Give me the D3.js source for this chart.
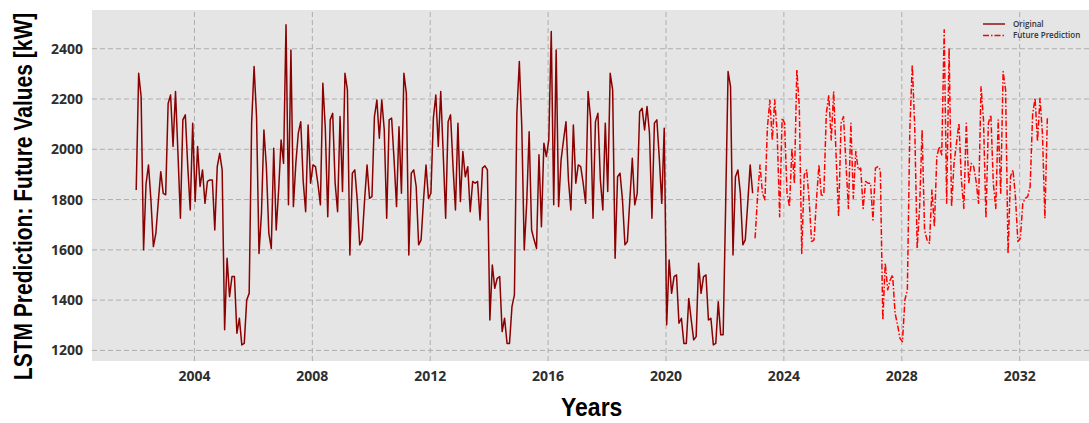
<!DOCTYPE html>
<html>
<head>
<meta charset="utf-8">
<script src="https://cdn.jsdelivr.net/npm/d3@7/dist/d3.min.js"></script>
<style>
  html, body { margin: 0; padding: 0; background: #ffffff; }
  svg { display: block; }
</style>
</head>
<body>
<svg id="chart" width="1089" height="423"></svg>
<script>
// ---- Data (monthly values) ----
const originalStart = [2002, 0];   // Jan 2002
const originalValues = [
  1836,2300,2208,1598,1860,1936,1795,1611,1664,1790,1909,1823,
  1817,2180,2214,2009,2228,1982,1724,2115,2135,1929,1757,2102,
  1790,2009,1850,1916,1783,1870,1876,1876,1677,1929,1982,1916,
  1280,1565,1412,1492,1492,1266,1326,1220,1226,1399,1425,2102,
  2327,2128,1584,1743,2075,1929,1664,1604,2002,1677,1836,2035,
  1942,2493,1777,2393,1770,1942,2062,2108,1870,1750,2095,1863,
  1936,1929,1860,1777,2261,2082,1730,2115,2141,1863,1750,2128,
  1830,2300,2234,1578,1903,1916,1797,1618,1638,1797,1936,1803,
  1810,2128,2194,2042,2194,2075,1724,2115,2122,1956,1770,2088,
  1823,2300,2221,1578,1903,1916,1850,1618,1638,1797,1936,1803,
  1823,2122,2214,2009,2228,1982,1724,2108,2135,1929,1757,2102,
  1790,1989,1889,1929,1750,1870,1863,1870,1717,1923,1932,1916,
  1319,1538,1445,1485,1492,1273,1326,1226,1226,1372,1419,2141,
  2347,2088,1598,1783,2068,1677,1638,1604,1976,1690,2022,1969,
  2035,2466,1777,2393,1770,1956,2035,2108,1876,1757,2095,1863,
  1936,1929,1863,1783,2228,2122,1724,2108,2141,1876,1757,2102,
  1830,2300,2234,1565,1889,1903,1797,1618,1631,1797,1962,1777,
  1823,2148,2161,2075,2168,2062,1724,2102,2115,1962,1783,2082,
  1300,1558,1425,1492,1498,1306,1326,1226,1226,1405,1319,1240,
  1253,1545,1425,1492,1498,1319,1326,1220,1226,1392,1260,1260,
  1770,2307,2247,1578,1889,1916,1823,1618,1638,1783,1936,1823
];
const predictionStart = [2023, 0]; // Jan 2023
const predictionValues = [
  1644,1810,1936,1823,1797,2082,2194,2035,2194,2062,1730,2122,
  2102,1823,1770,2000,1863,2314,2168,1584,1896,1916,1797,1631,
  1638,1797,1936,1810,1823,2141,2214,2035,2228,1969,1730,2102,
  2128,1942,1763,2102,1803,1989,1916,1923,1763,1870,1863,1863,
  1717,1923,1929,1916,1319,1545,1439,1478,1498,1346,1300,1246,
  1233,1399,1439,2075,2334,2088,1604,1770,2075,1677,1638,1624,
  1836,1690,1969,2009,1976,2473,1783,2400,1770,1942,2022,2102,
  1876,1763,2102,1863,1942,1929,1870,1783,2247,2115,1724,2102,
  2135,1863,1763,2115,1823,2307,2234,1584,1889,1916,1810,1631,
  1644,1783,1803,1810,1850,2135,2201,2029,2201,2062,1724,2122
];
const xTickYears = [2004, 2008, 2012, 2016, 2020, 2024, 2028, 2032];
const yTickValues = [1200, 1400, 1600, 1800, 2000, 2200, 2400];
const seriesNames = ["Original", "Future Prediction"];
const xTitle = "Years";
const yTitle = "LSTM Prediction: Future Values [kW]";

// ---- Layout ----
const W = 1089, H = 423;
const plot = { left: 92, top: 10, right: 1089, bottom: 361 };

const toPoints = (start, values) =>
  values.map((v, i) => ({ t: start[0] + (start[1] + i) / 12 + 0.04, v }));

const orig = toPoints(originalStart, originalValues);
const pred = toPoints(predictionStart, predictionValues);

const x = d3.scaleLinear().domain([2000.54, 2034.37]).range([plot.left, plot.right]);
const y = d3.scaleLinear().domain([1156, 2552]).range([plot.bottom, plot.top]);

const svg = d3.select("#chart");

svg.append("defs").append("clipPath").attr("id", "clip")
  .append("rect")
  .attr("x", plot.left).attr("y", plot.top)
  .attr("width", plot.right - plot.left).attr("height", plot.bottom - plot.top);

// background
svg.append("rect")
  .attr("x", plot.left).attr("y", plot.top)
  .attr("width", plot.right - plot.left).attr("height", plot.bottom - plot.top)
  .attr("fill", "#e5e5e5");

// grid lines via axes
const gx = svg.append("g")
  .attr("transform", `translate(0,${plot.bottom})`)
  .call(d3.axisBottom(x).tickValues(xTickYears).tickFormat(d3.format("d"))
        .tickSize(-(plot.bottom - plot.top)));
const gy = svg.append("g")
  .attr("transform", `translate(${plot.left},0)`)
  .call(d3.axisLeft(y).tickValues(yTickValues).tickFormat(d3.format("d"))
        .tickSize(-(plot.right - plot.left)));

[gx, gy].forEach(g => {
  g.select(".domain").remove();
  g.selectAll(".tick line")
    .attr("stroke", "#a8a8a8")
    .attr("stroke-width", 0.9)
    .attr("stroke-dasharray", "5,3");
  g.selectAll(".tick text")
    .attr("fill", "#2e2e2e")
    .style("font-family", "'Open Sans', sans-serif")
    .style("font-weight", "bold")
    .style("font-size", "14px");
});
gx.selectAll(".tick text").attr("y", 19.7).attr("dy", 0);
gy.selectAll(".tick text").attr("x", -9).attr("dy", "0.36em");

// lines
const line = d3.line().x(d => x(d.t)).y(d => y(d.v));
const plotG = svg.append("g").attr("clip-path", "url(#clip)");

plotG.append("path")
  .datum(orig)
  .attr("d", line)
  .attr("fill", "none")
  .attr("stroke", "#8b0000")
  .attr("stroke-width", 1.5)
  .attr("stroke-linejoin", "round");

plotG.append("path")
  .datum(pred)
  .attr("d", line)
  .attr("fill", "none")
  .attr("stroke", "#ff0000")
  .attr("stroke-width", 1.5)
  .attr("stroke-dasharray", "6,2,1.5,2")
  .attr("stroke-linejoin", "round");

// legend
const legend = svg.append("g").attr("transform", "translate(983,24)");
const legendStyles = [
  { color: "#8b0000", dash: null },
  { color: "#ff0000", dash: "6,2,1.5,2" }
];
seriesNames.forEach((name, i) => {
  const row = legend.append("g").attr("transform", `translate(0,${i * 11.5})`);
  row.append("line")
    .attr("x1", 0).attr("x2", 22).attr("y1", 0).attr("y2", 0)
    .attr("stroke", legendStyles[i].color)
    .attr("stroke-width", 1.4)
    .attr("stroke-dasharray", legendStyles[i].dash);
  row.append("text")
    .attr("x", 30).attr("y", 0).attr("dy", "0.35em")
    .attr("fill", "#333333")
    .style("font-family", "'Open Sans', sans-serif")
    .style("font-weight", "600")
    .style("font-size", "8px")
    .text(name);
});

// axis titles
svg.append("text")
  .attr("transform", "translate(591.7,415.7) scale(1,1.09)")
  .attr("text-anchor", "middle")
  .attr("fill", "#000")
  .style("font-family", "'Liberation Sans', Arial, sans-serif")
  .style("font-weight", "bold")
  .style("font-size", "23px")
  .text(xTitle);

svg.append("text")
  .attr("transform", "translate(31.7,196.5) rotate(-90) scale(1,1.26)")
  .attr("text-anchor", "middle")
  .attr("fill", "#000")
  .style("font-family", "'Liberation Sans', Arial, sans-serif")
  .style("font-weight", "bold")
  .style("font-size", "21px")
  .text(yTitle);
</script>
</body>
</html>
